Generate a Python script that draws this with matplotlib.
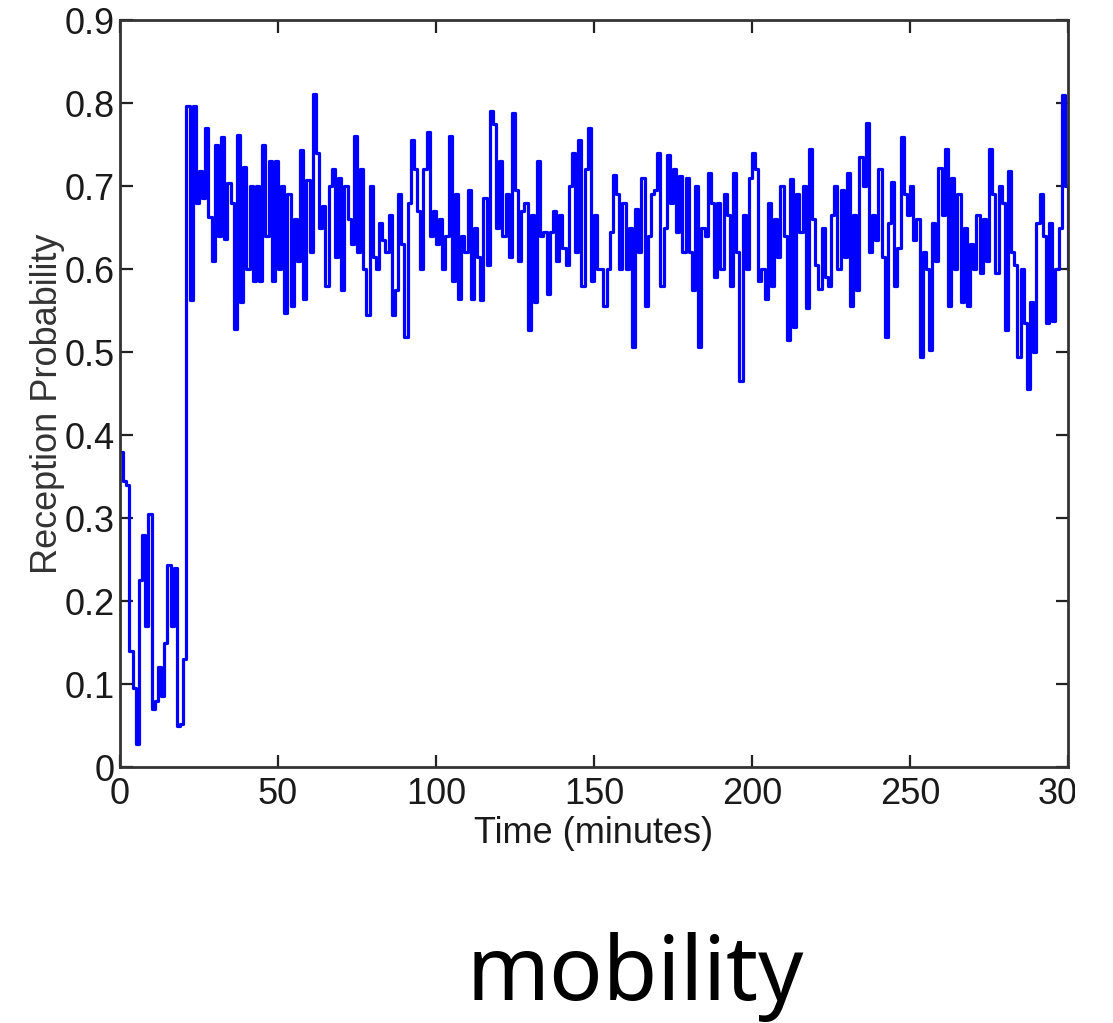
import matplotlib
matplotlib.use('Agg')
import matplotlib.pyplot as plt
from matplotlib.patches import Rectangle

# reception probability, one sample per minute
minutes = list(range(0, 301))
prob = [
    0.38, 0.345, 0.34, 0.14, 0.095, 0.028, 0.225, 0.28, 0.17, 0.305,
    0.07, 0.08, 0.12, 0.085, 0.15, 0.244, 0.17, 0.24, 0.05, 0.052,
    0.13, 0.797, 0.563, 0.797, 0.68, 0.718, 0.685, 0.77, 0.663, 0.61,
    0.75, 0.64, 0.759, 0.636, 0.704, 0.68, 0.528, 0.761, 0.56, 0.723,
    0.60, 0.70, 0.585, 0.70, 0.585, 0.75, 0.64, 0.73, 0.585, 0.73,
    0.60, 0.70, 0.547, 0.69, 0.555, 0.66, 0.61, 0.743, 0.564, 0.707,
    0.62, 0.811, 0.74, 0.65, 0.676, 0.58, 0.70, 0.72, 0.615, 0.71,
    0.575, 0.70, 0.66, 0.63, 0.76, 0.62, 0.72, 0.60, 0.545, 0.70,
    0.615, 0.60, 0.655, 0.635, 0.62, 0.665, 0.545, 0.575, 0.69, 0.63,
    0.518, 0.68, 0.755, 0.72, 0.67, 0.60, 0.72, 0.765, 0.64, 0.67,
    0.63, 0.66, 0.60, 0.64, 0.76, 0.585, 0.69, 0.564, 0.64, 0.62,
    0.695, 0.564, 0.65, 0.615, 0.563, 0.685, 0.605, 0.79, 0.775, 0.65,
    0.73, 0.64, 0.69, 0.615, 0.788, 0.695, 0.61, 0.67, 0.68, 0.527,
    0.665, 0.56, 0.73, 0.64, 0.645, 0.57, 0.645, 0.67, 0.61, 0.665,
    0.625, 0.605, 0.70, 0.74, 0.62, 0.756, 0.58, 0.72, 0.77, 0.585,
    0.665, 0.60, 0.60, 0.556, 0.60, 0.645, 0.713, 0.69, 0.60, 0.68,
    0.60, 0.65, 0.506, 0.672, 0.62, 0.71, 0.555, 0.64, 0.69, 0.695,
    0.74, 0.58, 0.65, 0.738, 0.68, 0.72, 0.645, 0.712, 0.62, 0.71,
    0.62, 0.575, 0.70, 0.506, 0.65, 0.64, 0.716, 0.68, 0.59, 0.68,
    0.60, 0.69, 0.665, 0.58, 0.716, 0.62, 0.465, 0.665, 0.60, 0.71,
    0.74, 0.72, 0.585, 0.60, 0.564, 0.68, 0.58, 0.66, 0.615, 0.70,
    0.64, 0.515, 0.708, 0.53, 0.69, 0.645, 0.70, 0.553, 0.745, 0.66,
    0.605, 0.576, 0.65, 0.59, 0.58, 0.665, 0.70, 0.60, 0.695, 0.615,
    0.716, 0.555, 0.665, 0.575, 0.735, 0.70, 0.776, 0.62, 0.665, 0.635,
    0.72, 0.615, 0.518, 0.655, 0.705, 0.58, 0.625, 0.759, 0.69, 0.665,
    0.70, 0.635, 0.66, 0.494, 0.62, 0.60, 0.502, 0.656, 0.61, 0.722,
    0.665, 0.745, 0.555, 0.71, 0.60, 0.69, 0.56, 0.65, 0.555, 0.63,
    0.60, 0.665, 0.595, 0.66, 0.61, 0.745, 0.69, 0.595, 0.70, 0.68,
    0.527, 0.718, 0.62, 0.605, 0.494, 0.60, 0.535, 0.455, 0.56, 0.50,
    0.656, 0.69, 0.64, 0.535, 0.656, 0.537, 0.60, 0.65, 0.81, 0.70,
    0.60,
]

x_ticks = [0, 50, 100, 150, 200, 250, 300]
y_ticks = [0, 0.1, 0.2, 0.3, 0.4, 0.5, 0.6, 0.7, 0.8, 0.9]
y_labels = ['0', '0.1', '0.2', '0.3', '0.4', '0.5', '0.6', '0.7', '0.8', '0.9']

plt.rcParams['font.family'] = ['Liberation Sans', 'DejaVu Sans']

fig = plt.figure(figsize=(11.13, 10.23), dpi=100)
ax = fig.add_axes([0.1078, 0.2502, 0.8518, 0.7302])

ax.plot(minutes, prob, color='#0000ff', lw=2.3, drawstyle='steps-post')

ax.set_xlim(0, 300)
ax.set_ylim(0, 0.9)
ax.set_xticks(x_ticks)
ax.set_xticklabels([str(v) for v in x_ticks], fontsize=26)
ax.set_yticks(y_ticks)
ax.set_yticklabels(y_labels, fontsize=26)
ax.tick_params(direction='in', length=9, width=1.6, top=True, right=True,
               color='#222222', labelcolor='#1a1a1a')
ax.tick_params(axis='x', pad=7)
ax.tick_params(axis='y', pad=4)
for s in ax.spines.values():
    s.set_linewidth(2.0)
    s.set_color('#333333')

ax.set_xlabel('Time (minutes)', fontsize=26, color='#1a1a1a', labelpad=3)
ax.set_ylabel('Reception Probability', fontsize=26, color='#333333')
ax.yaxis.set_label_coords(-0.058, 0.486)

# the right end of the "300" label is cut off in the source picture
fig.patches.append(Rectangle((1075 / 1113, 0.12), 1, 0.12, transform=fig.transFigure,
                             facecolor='white', edgecolor='none', zorder=10))

fig.text(635 / 1113, 0.0225, 'mobility', fontsize=64, family=['Noto Sans', 'DejaVu Sans'],
         ha='center', va='baseline', color='black')

fig.savefig('out.png', dpi=100)
